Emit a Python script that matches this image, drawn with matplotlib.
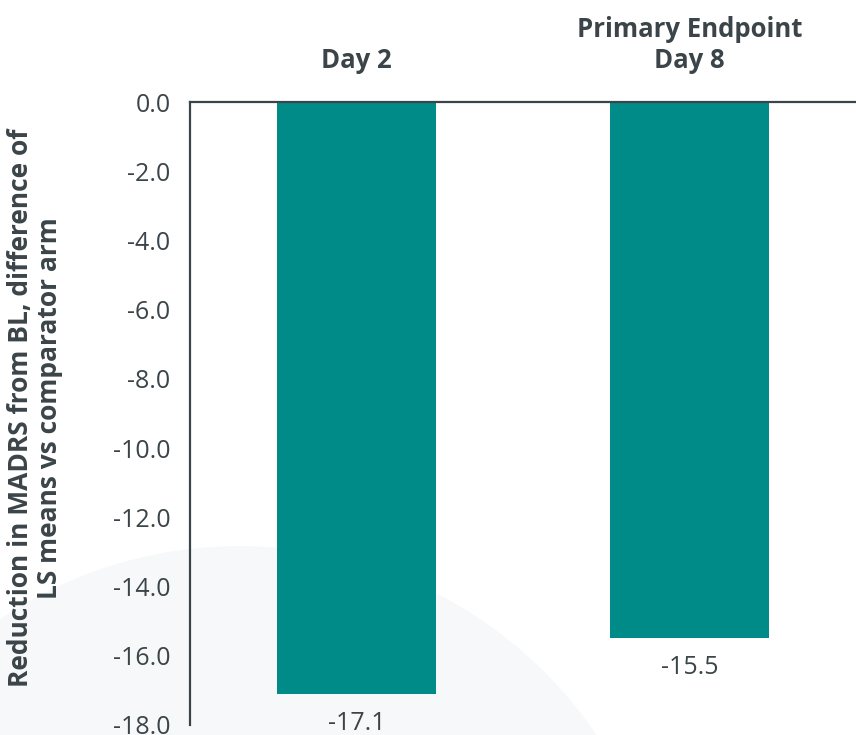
import matplotlib
matplotlib.use("Agg")
import matplotlib.pyplot as plt
from matplotlib.patches import Ellipse

plt.rcParams['font.family'] = ['Open Sans', 'DejaVu Sans']

# differences of LS means vs comparator arm
categories = ["Day 2", "Primary Endpoint\nDay 8"]
values = [-17.1, -15.5]
yticks = [0, -2, -4, -6, -8, -10, -12, -14, -16, -18]

teal = "#008b88"
ink = "#3b4549"

fig = plt.figure(figsize=(8.56, 7.35), dpi=100)
fig.patch.set_facecolor("white")

# faint background swoosh
fig.add_artist(Ellipse((240 / 856, -242 / 735), 862 / 856, 862 / 735,
                       transform=fig.transFigure, facecolor="#f7f8f9",
                       edgecolor="none", zorder=0))

ax = fig.add_axes([190 / 856, 10 / 735, 666 / 856, 623 / 735])
ax.set_facecolor("none")

x = range(len(categories))
bars = ax.bar(x, values, width=0.48, color=teal, zorder=2)

ax.set_xlim(-0.5, 1.5)
ax.set_ylim(-18, 0)
ax.set_yticks(yticks)
ax.set_yticklabels([f"{v:.1f}" for v in yticks], fontsize=18, color=ink)

ax.xaxis.tick_top()
ax.set_xticks(list(x))
ax.set_xticklabels(categories, fontsize=18.5, fontweight="bold", color=ink,
                   linespacing=1.2)
ax.tick_params(axis="x", length=0, pad=20)
ax.tick_params(axis="y", length=0, pad=14)

for side in ["right", "bottom"]:
    ax.spines[side].set_visible(False)
for side in ["left", "top"]:
    ax.spines[side].set_color(ink)
    ax.spines[side].set_linewidth(1.6)

for rect, v in zip(bars, values):
    ax.annotate(f"{v:.1f}", (rect.get_x() + rect.get_width() / 2, v),
                xytext=(0, -12), textcoords="offset points",
                ha="center", va="top", fontsize=18, color=ink)

fig.text(35 / 856, 1 - 408 / 735,
         "Reduction in MADRS from BL, difference of\nLS means vs comparator arm",
         rotation=90, ha="center", va="center", fontsize=19,
         fontweight="bold", color=ink, linespacing=1.1)

fig.savefig("out.png", dpi=100)
